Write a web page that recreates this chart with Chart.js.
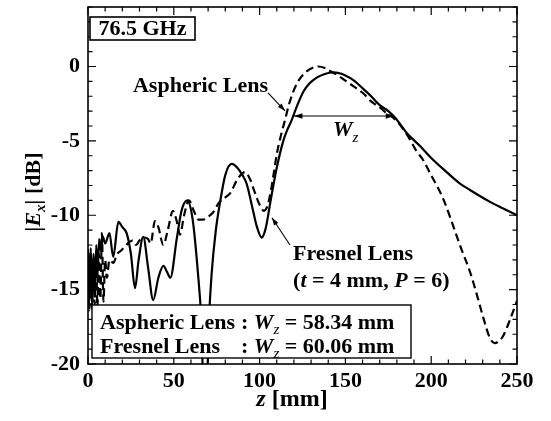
<!DOCTYPE html>
<html>
<head>
<meta charset="utf-8">
<script src="https://cdn.jsdelivr.net/npm/chart.js@4.4.0/dist/chart.umd.min.js"></script>
<style>
  html, body { margin: 0; padding: 0; background: #fff; }
  #wrap { width: 551px; height: 421px; }
</style>
</head>
<body>
<div id="wrap"><canvas id="fieldChart" width="551" height="421"></canvas></div>
<script>
// |Ex| along the axis, 76.5 GHz
const asphericZ = [0, 0.7, 1.5, 2.3, 3.1, 3.9, 4.7, 5.5, 6.3, 7.2, 8.1, 9, 10, 11, 12.5, 14.7, 17, 19, 21.6, 24,
  26, 28, 30, 33, 35, 36.5, 39, 41, 43.9, 46.5, 49.5, 51.5, 53.6, 56, 58.8, 62, 64.5, 67, 70, 73,
  76, 80, 83, 87, 91.5, 94.5, 97, 100, 102.5, 104.5, 106.5, 108.5, 110, 112.5, 114.8, 117, 119.6, 123, 127.4, 131,
  134.2, 138, 141, 145, 150, 155, 160.4, 165, 170, 174, 178, 183, 187.6, 191.5, 195.4, 199, 203.2, 207, 212, 217,
  222.6, 226.5, 230.4, 234, 237, 240, 242, 246, 250];
const asphericDb = [-13, -16.4, -12.4, -16.3, -12.8, -16, -12.5, -16.2, -12.6, -15.6, -11.2, -15.8, -13, -14.2, -13, -13.2, -12.6, -12.4, -12.1, -11.8,
  -11.7, -12, -11.7, -11.5, -11.6, -11.9, -10.4, -10.8, -12, -11, -9.7, -10.3, -11.3, -10, -9, -9.8, -10.3, -10.3, -10.1, -9.8,
  -9.2, -8.8, -8.5, -7.6, -7.1, -7.6, -8.4, -9.3, -9.7, -9.4, -8.4, -7, -5.9, -4.6, -3.6, -2.6, -1.7, -0.9, -0.33, -0.08,
  0, -0.1, -0.3, -0.55, -0.95, -1.35, -1.8, -2.35, -2.75, -3.15, -3.45, -4.1, -4.9, -5.7, -6.3, -7.1, -8, -8.9, -10.45, -12.1,
  -13.8, -15.3, -16.9, -18.2, -18.6, -18.4, -18.1, -17, -15.75];

const fresnelZ = [0, 0.8, 1.6, 2.4, 3.2, 4, 4.8, 5.6, 6.5, 7.5, 8.5, 10, 12.5, 14.7, 17.7, 20, 22.5, 25, 27.4, 29.5,
  32.2, 35, 38, 41, 43.9, 46, 48, 51.7, 54.5, 57.8, 61, 64, 66, 67.5, 69, 70.5, 72, 74.5, 77, 80,
  83.7, 87, 90, 92.5, 96, 98.5, 101.2, 103.5, 106, 108, 110, 113.8, 116, 118.7, 122, 125.5, 129, 133.3, 138, 143,
  150, 155, 160.4, 165, 170, 175, 179, 186, 193.5, 200, 209, 216, 222.6, 234.3, 242, 250];
const fresnelDb = [-12.3, -15.8, -12.2, -16, -12.6, -15.2, -12, -14, -11.6, -12.4, -11.4, -11.9, -11.2, -12.8, -10.45, -10.8, -11.2, -12.6, -14.9, -13,
  -11.45, -13.5, -15.7, -14.2, -13.4, -13.8, -14.2, -11.6, -9.7, -9, -10.3, -13.8, -17, -22, -22, -17, -14, -11, -9.1, -7.3,
  -6.55, -6.8, -7.3, -7.9, -9.6, -10.8, -11.5, -10.9, -9.3, -8, -6.8, -5, -4.3, -3.6, -2.6, -1.7, -1.15, -0.75, -0.5, -0.4,
  -0.6, -0.95, -1.5, -2, -2.6, -3, -3.45, -4.5, -5.35, -6.15, -7.1, -7.8, -8.3, -9.1, -9.55, -10];

const zTicks = [0, 50, 100, 150, 200, 250];
const dbTicks = [-20, -15, -10, -5, 0];

const serif = "'Liberation Serif', 'Times New Roman', serif";
const B = "bold 22px " + serif;
const BI = "italic bold 22px " + serif;
const SUB = "italic 15px " + serif;

function toPoints(xs, ys) {
  return xs.map((x, i) => ({ x: x, y: ys[i] }));
}

function richText(ctx, parts, x, y) {
  let cx = x;
  parts.forEach(p => {
    ctx.font = p.font;
    ctx.fillText(p.text, cx, y + (p.dy || 0));
    cx += ctx.measureText(p.text).width;
  });
  return cx - x;
}

function richWidth(ctx, parts) {
  let w = 0;
  parts.forEach(p => { ctx.font = p.font; w += ctx.measureText(p.text).width; });
  return w;
}

function arrowHead(ctx, x0, y0, x1, y1, size) {
  const a = Math.atan2(y1 - y0, x1 - x0);
  ctx.beginPath();
  ctx.moveTo(x1, y1);
  ctx.lineTo(x1 - size * Math.cos(a - 0.32), y1 - size * Math.sin(a - 0.32));
  ctx.lineTo(x1 - size * Math.cos(a + 0.32), y1 - size * Math.sin(a + 0.32));
  ctx.closePath();
  ctx.fill();
}

const framePlugin = {
  id: 'frame',
  afterDatasetsDraw(chart) {
    const ctx = chart.ctx, a = chart.chartArea;
    const xs = chart.scales.x, ys = chart.scales.y;
    const P = (z, db) => [xs.getPixelForValue(z), ys.getPixelForValue(db)];
    ctx.save();
    ctx.strokeStyle = '#000';
    ctx.fillStyle = '#000';
    ctx.textBaseline = 'alphabetic';
    ctx.textAlign = 'left';

    // inward ticks on all four sides
    ctx.lineWidth = 1.2;
    ctx.beginPath();
    for (let v = 0; v <= 250; v += 10) {
      const px = xs.getPixelForValue(v);
      const len = v % 50 === 0 ? 8 : 4.5;
      ctx.moveTo(px, a.bottom); ctx.lineTo(px, a.bottom - len);
      ctx.moveTo(px, a.top); ctx.lineTo(px, a.top + len);
    }
    for (let v = -20; v <= 4; v += 1) {
      const py = ys.getPixelForValue(v);
      const len = v % 5 === 0 ? 8 : 4.5;
      ctx.moveTo(a.left, py); ctx.lineTo(a.left + len, py);
      ctx.moveTo(a.right, py); ctx.lineTo(a.right - len, py);
    }
    ctx.stroke();
    ctx.lineWidth = 1.6;
    ctx.strokeRect(a.left, a.top, a.right - a.left, a.bottom - a.top);

    // frequency box
    ctx.fillStyle = '#fff';
    ctx.fillRect(a.left + 2, a.top + 10, 105, 23);
    ctx.lineWidth = 1.6;
    ctx.strokeRect(a.left + 2, a.top + 10, 105, 23);
    ctx.fillStyle = '#000';
    ctx.font = B;
    ctx.textAlign = 'center';
    ctx.fillText('76.5 GHz', a.left + 54.5, a.top + 28);
    ctx.textAlign = 'left';

    // Wz summary box
    ctx.fillStyle = '#fff';
    ctx.fillRect(a.left + 4, 305, 319, 53);
    ctx.lineWidth = 1.4;
    ctx.strokeRect(a.left + 4, 305, 319, 53);
    ctx.fillStyle = '#000';
    const colX = a.left + 153;
    ctx.font = B;
    ctx.fillText('Aspheric Lens', a.left + 12, 328.5);
    richText(ctx, [{ text: ': ', font: B }, { text: 'W', font: BI }, { text: 'z', font: SUB, dy: 5 },
      { text: ' = 58.34 mm', font: B }], colX, 328.5);
    ctx.font = B;
    ctx.fillText('Fresnel Lens', a.left + 12, 353);
    richText(ctx, [{ text: ': ', font: B }, { text: 'W', font: BI }, { text: 'z', font: SUB, dy: 5 },
      { text: ' = 60.06 mm', font: B }], colX, 353);

    // curve labels
    let p = P(26.2, -1.7);
    ctx.font = B;
    ctx.fillText('Aspheric Lens', p[0], p[1]);
    p = P(119.5, -13.0);
    ctx.fillText('Fresnel Lens', p[0], p[1]);
    p = P(119.5, -14.82);
    richText(ctx, [{ text: '(', font: B }, { text: 't', font: BI }, { text: ' = 4 mm, ', font: B },
      { text: 'P', font: BI }, { text: ' = 6)', font: B }], p[0], p[1]);

    // pointer arrows
    ctx.lineWidth = 1.1;
    const arrows = [[104.9, -1.77, 114.8, -2.98], [117.7, -12.0, 107.2, -10.17]];
    arrows.forEach(r => {
      const s = P(r[0], r[1]), e = P(r[2], r[3]);
      ctx.beginPath(); ctx.moveTo(s[0], s[1]); ctx.lineTo(e[0], e[1]); ctx.stroke();
      arrowHead(ctx, s[0], s[1], e[0], e[1], 8);
    });

    // Wz double arrow
    const w0 = P(120, -3.33), w1 = P(178.5, -3.33);
    ctx.beginPath(); ctx.moveTo(w0[0], w0[1]); ctx.lineTo(w1[0], w1[1]); ctx.stroke();
    arrowHead(ctx, w1[0], w1[1], w0[0], w0[1], 9);
    arrowHead(ctx, w0[0], w0[1], w1[0], w1[1], 9);
    p = P(142.8, -4.7);
    richText(ctx, [{ text: 'W', font: BI }, { text: 'z', font: SUB, dy: 6 }], p[0], p[1]);

    // axis titles
    const xt = [{ text: 'z', font: "italic bold 24px " + serif }, { text: ' [mm]', font: "bold 24px " + serif }];
    const xw = richWidth(ctx, xt);
    richText(ctx, xt, 292 - xw / 2, 406);

    const yt = [{ text: '|', font: BI }, { text: 'E', font: BI }, { text: 'x', font: "italic bold 15px " + serif, dy: 5 },
      { text: '|', font: BI }, { text: ' [dB]', font: B }];
    const yw = richWidth(ctx, yt);
    ctx.translate(40, 192);
    ctx.rotate(-Math.PI / 2);
    richText(ctx, yt, -yw / 2, 0);
    ctx.restore();
  }
};

const tickFont = { family: serif, size: 22, weight: 'bold' };

new Chart(document.getElementById('fieldChart'), {
  type: 'line',
  data: {
    datasets: [
      {
        label: 'Aspheric Lens',
        data: toPoints(asphericZ, asphericDb),
        borderColor: '#000',
        borderWidth: 2.2,
        borderDash: [8, 4.5],
        pointRadius: 0,
        fill: false,
        cubicInterpolationMode: 'monotone'
      },
      {
        label: 'Fresnel Lens',
        data: toPoints(fresnelZ, fresnelDb),
        borderColor: '#000',
        borderWidth: 2.2,
        pointRadius: 0,
        fill: false,
        cubicInterpolationMode: 'monotone'
      }
    ]
  },
  options: {
    responsive: false,
    animation: false,
    devicePixelRatio: 1,
    layout: { padding: { top: 7, right: 34, left: 0, bottom: 0 } },
    plugins: { legend: { display: false }, tooltip: { enabled: false } },
    scales: {
      x: {
        type: 'linear',
        min: 0,
        max: 250,
        afterBuildTicks: s => { s.ticks = zTicks.map(v => ({ value: v })); },
        afterFit: s => { s.height = 57; s.paddingLeft = 0; s.paddingRight = 0; },
        grid: { display: false, drawTicks: false },
        border: { display: false },
        ticks: { font: tickFont, color: '#000', padding: 4, maxRotation: 0, autoSkip: false }
      },
      y: {
        type: 'linear',
        min: -20,
        max: 4,
        afterBuildTicks: s => { s.ticks = dbTicks.map(v => ({ value: v })); },
        afterFit: s => { s.width = 88; s.paddingTop = 0; s.paddingBottom = 0; },
        grid: { display: false, drawTicks: false },
        border: { display: false },
        ticks: { font: tickFont, color: '#000', padding: 8, autoSkip: false }
      }
    }
  },
  plugins: [framePlugin]
});
</script>
</body>
</html>
